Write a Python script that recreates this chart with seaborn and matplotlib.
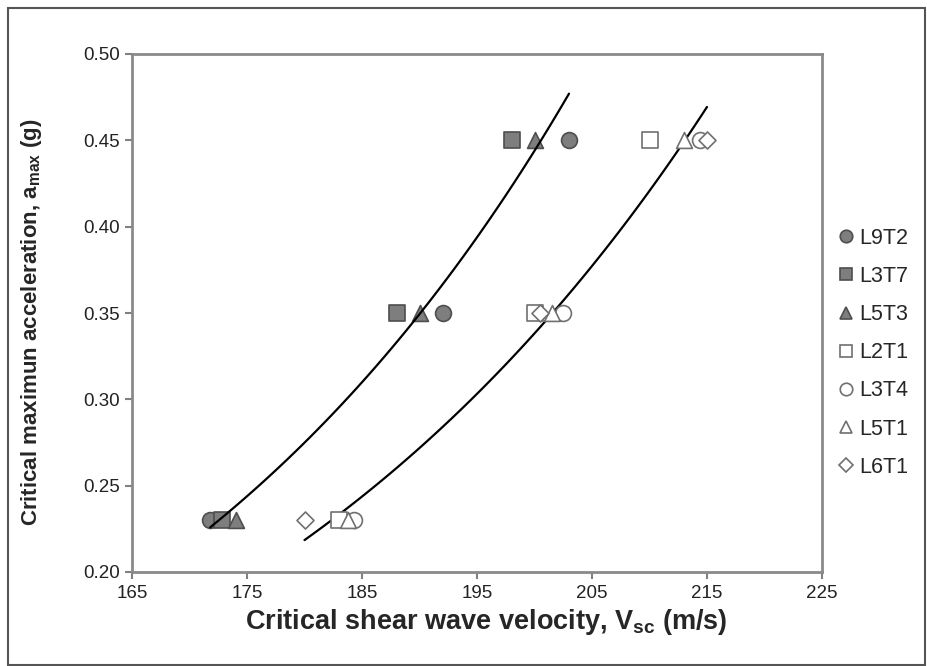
import numpy as np
import pandas as pd
import seaborn as sns
import matplotlib
matplotlib.use("Agg")
import matplotlib.pyplot as plt
from matplotlib.patches import Rectangle
from matplotlib.lines import Line2D

# ---- data ----
series_names = ["L9T2", "L3T7", "L5T3", "L2T1", "L3T4", "L5T1", "L6T1"]
accel_levels = [0.23, 0.35, 0.45]
vsc_L9T2 = [171.8, 192.0, 203.0]
vsc_L3T7 = [172.8, 188.0, 198.0]
vsc_L5T3 = [174.0, 190.0, 200.0]
vsc_L2T1 = [183.0, 200.0, 210.0]
vsc_L3T4 = [184.3, 202.5, 214.4]
vsc_L5T1 = [183.8, 201.5, 213.0]
vsc_L6T1 = [180.0, 200.5, 215.0]
filled_group = ["L9T2", "L3T7", "L5T3"]
open_group = ["L2T1", "L3T4", "L5T1", "L6T1"]
x_ticks = [165, 175, 185, 195, 205, 215, 225]
y_ticks = [0.20, 0.25, 0.30, 0.35, 0.40, 0.45, 0.50]

vsc = {"L9T2": vsc_L9T2, "L3T7": vsc_L3T7, "L5T3": vsc_L5T3,
       "L2T1": vsc_L2T1, "L3T4": vsc_L3T4, "L5T1": vsc_L5T1, "L6T1": vsc_L6T1}
rows = []
for s in series_names:
    for xv, yv in zip(vsc[s], accel_levels):
        rows.append({"series": s, "Vsc": xv, "amax": yv})
df = pd.DataFrame(rows)

# ---- styles ----
sns.set_theme(style="white")
plt.rcParams["font.family"] = ["Liberation Sans", "DejaVu Sans"]
marker_of = {"L9T2": "o", "L3T7": "s", "L5T3": "^", "L2T1": "s",
             "L3T4": "o", "L5T1": "^", "L6T1": "D"}
size_of = {"o": 130, "s": 120, "^": 130, "D": 75}
fill_gray = "#7e7e7e"
edge_dark = "#4e4e4e"
edge_open = "#707070"

fig = plt.figure(figsize=(9.27, 6.66), dpi=100)
ax = fig.add_axes([132/927, 1-572/666, (822-132)/927, (572-54)/666])

# exponential trendlines fitted to each group
for grp in (filled_group, open_group):
    sub = df[df.series.isin(grp)]
    b, a = np.polyfit(sub.Vsc, np.log(sub.amax), 1)
    xs = np.linspace(sub.Vsc.min(), sub.Vsc.max(), 100)
    sns.lineplot(x=xs, y=np.exp(a + b * xs), ax=ax, color="black", lw=1.6, zorder=3)

handles = []
for s in series_names:
    sub = df[df.series == s]
    m = marker_of[s]
    filled = s in filled_group
    fc = fill_gray if filled else "white"
    ec = edge_dark if filled else edge_open
    sns.scatterplot(data=sub, x="Vsc", y="amax", ax=ax, marker=m, s=size_of[m],
                    color=fc, edgecolor=ec, linewidth=1.2, zorder=2 if filled else 4)
    handles.append(Line2D([], [], linestyle="none", marker=m,
                          markersize=(9 if m != "D" else 7), markerfacecolor=fc,
                          markeredgecolor=ec, markeredgewidth=1.2, label=s))

ax.set_xlim(165, 225)
ax.set_ylim(0.20, 0.50)
ax.set_xticks(x_ticks)
ax.set_yticks(y_ticks)
ax.set_xticklabels([str(t) for t in x_ticks])
ax.set_yticklabels([f"{t:.2f}" for t in y_ticks])
ax.tick_params(axis="both", labelsize=13.5, direction="out", length=5, width=1.5,
               color="#808080", colors="#222222", left=True, bottom=True, pad=4)
for sp in ax.spines.values():
    sp.set_color("#8a8a8a")
    sp.set_linewidth(2)
ax.set_xlabel("Critical shear wave velocity, V$_{\\mathregular{sc}}$ (m/s)",
              fontsize=19.5, fontweight="bold")
ax.set_ylabel("Critical maximun acceleration, a$_{\\mathregular{max}}$ (g)",
              fontsize=16, fontweight="bold")
ax.xaxis.set_label_coords(0.513, -0.068)
ax.yaxis.set_label_coords(-0.128, 0.483)

fig.legend(handles=handles, loc="upper left", bbox_to_anchor=(827/927, 1-219/666),
           frameon=False, fontsize=15.5, handletextpad=0.1, labelspacing=0.8,
           handlelength=1.0, borderaxespad=0)

fig.patches.append(Rectangle((8/927, 0.002), 1 - 8/927 - 0.002, 1 - 8/666 - 0.002,
                             transform=fig.transFigure, fill=False,
                             edgecolor="#555555", lw=1.5))

fig.savefig("out.png", dpi=100)
